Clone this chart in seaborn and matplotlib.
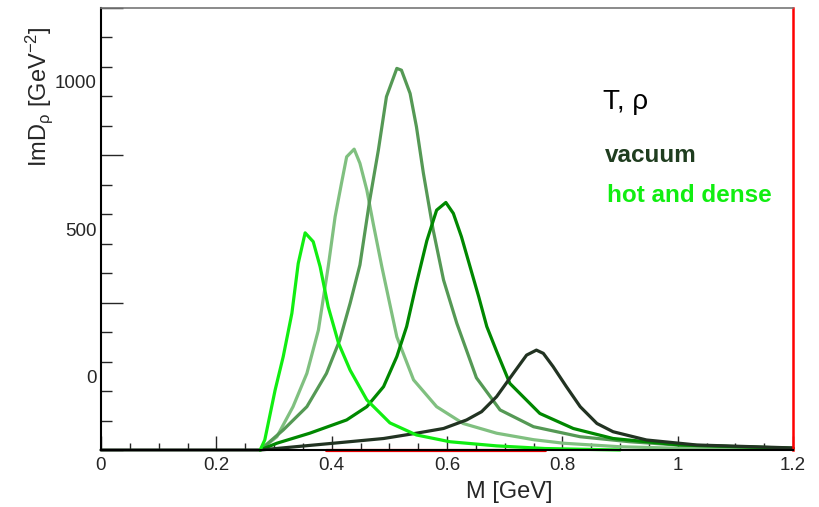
import numpy as np
import pandas as pd
import matplotlib
matplotlib.use('Agg')
import matplotlib.pyplot as plt
import seaborn as sns

# Spektralfunktion des rho-Mesons
m_hot = [0.276, 0.284, 0.302, 0.316, 0.331, 0.342, 0.354, 0.368, 0.380, 0.394,
         0.412, 0.432, 0.461, 0.501, 0.547, 0.605, 0.686, 0.770, 0.900]
v_hot = [0, 34, 204, 317, 464, 633, 737, 707, 622, 486,
         362, 271, 170, 92, 51, 28, 14, 5, 0]

m_light = [0.276, 0.305, 0.333, 0.357, 0.377, 0.394, 0.406, 0.417, 0.426, 0.439,
           0.449, 0.461, 0.472, 0.487, 0.513, 0.542, 0.582, 0.628, 0.686, 0.750,
           0.802, 0.900, 1.000, 1.200]
v_light = [0, 45, 147, 260, 407, 622, 792, 905, 995, 1021,
           973, 882, 769, 622, 384, 238, 147, 90, 57, 35,
           23, 11, 6, 2]

m_mid = [0.276, 0.316, 0.357, 0.391, 0.414, 0.432, 0.449, 0.466, 0.481, 0.495,
         0.513, 0.521, 0.536, 0.547, 0.559, 0.576, 0.594, 0.617, 0.651, 0.692,
         0.750, 0.831, 0.917, 1.000, 1.200]
v_mid = [0, 68, 147, 260, 373, 498, 628, 848, 1018, 1199,
         1295, 1289, 1210, 1097, 940, 747, 577, 430, 245, 136,
         79, 45, 28, 17, 5]

m_green = [0.276, 0.305, 0.362, 0.426, 0.461, 0.490, 0.513, 0.530, 0.547, 0.565,
           0.582, 0.598, 0.611, 0.625, 0.640, 0.655, 0.669, 0.686, 0.709, 0.761,
           0.819, 0.888, 1.004, 1.200]
v_green = [0, 23, 57, 102, 147, 215, 317, 419, 565, 710,
           814, 840, 803, 724, 622, 520, 419, 335, 226, 124,
           73, 39, 17, 6]

m_vac = [0.0, 0.276, 0.403, 0.490, 0.547, 0.594, 0.634, 0.660, 0.686, 0.715,
         0.738, 0.755, 0.767, 0.784, 0.807, 0.831, 0.860, 0.888, 0.946, 1.033,
         1.200]
v_vac = [0, 0, 23, 39, 57, 73, 102, 130, 181, 260,
         322, 339, 328, 283, 215, 147, 90, 62, 34, 17,
         7]

m_ref = [0.39, 0.77]
v_ref = [0, 0]

curve_names = ['ref', 'light', 'mid', 'green', 'vac', 'hot']
curve_colors = ['#ee0000', '#80c080', '#559955', '#008800', '#223322', '#11ee11']

x_ticks = [0, 0.2, 0.4, 0.6, 0.8, 1.0, 1.2]
x_ticklabels = ['0', '0.2', '0.4', '0.6', '0.8', '1', '1.2']
y_ticks = [0, 500, 1000, 1500]
y_ticklabels = ['0', '500', '1000']
LABEL_SHIFT = 250  # Beschriftung ist gegenueber den Hauptstrichen verschoben

frames = []
for name, m, v in [('ref', m_ref, v_ref), ('light', m_light, v_light),
                   ('mid', m_mid, v_mid), ('green', m_green, v_green),
                   ('vac', m_vac, v_vac), ('hot', m_hot, v_hot)]:
    frames.append(pd.DataFrame({'M': m, 'ImD': v, 'curve': name}))
df = pd.concat(frames, ignore_index=True)

sns.set_style('white')
plt.rcParams['font.family'] = ['Liberation Sans', 'DejaVu Sans']
plt.rcParams['mathtext.default'] = 'regular'

fig = plt.figure(figsize=(8.19, 5.07), dpi=100)
ax = fig.add_axes([101 / 819, 57 / 507, 692 / 819, 442 / 507])

for name, col in zip(curve_names, curve_colors):
    sub = df[df['curve'] == name]
    sns.lineplot(data=sub, x='M', y='ImD', color=col, linewidth=2.3,
                 sort=False, estimator=None, ax=ax, clip_on=False)

ax.set_xlim(0, 1.2)
ax.set_ylim(0, 1500)

ax.set_xticks(x_ticks)
ax.set_xticklabels(x_ticklabels)
ax.set_xticks(np.arange(0, 1.2001, 0.05), minor=True)
ax.set_yticks(y_ticks)
ax.set_yticklabels([])
ax.set_yticks(np.arange(0, 1501, 100), minor=True)

ax.tick_params(axis='x', which='major', direction='in', length=10, width=1,
               labelsize=13.5, pad=5, bottom=True, top=False)
ax.tick_params(axis='x', which='minor', direction='in', length=5, width=1,
               bottom=True, top=False)
ax.tick_params(axis='y', which='major', direction='in', length=15.8, width=1,
               left=True, right=False)
ax.tick_params(axis='y', which='minor', direction='in', length=7.9, width=1,
               left=True, right=False)

secax = ax.secondary_yaxis('left', functions=(lambda y: y - LABEL_SHIFT,
                                              lambda y: y + LABEL_SHIFT))
secax.set_yticks([0, 500, 1000])
secax.set_yticklabels(y_ticklabels)
secax.tick_params(length=0, labelsize=13.5, pad=3)
secax.spines['left'].set_visible(False)
secax.set_ylabel('')

for s in ['left', 'bottom']:
    ax.spines[s].set_color('black')
    ax.spines[s].set_linewidth(1.5)
ax.spines['top'].set_color('#777777')
ax.spines['top'].set_linewidth(1.2)
ax.spines['right'].set_color('red')
ax.spines['right'].set_linewidth(1.8)

ax.set_xlabel('M [GeV]', fontsize=17)
ax.xaxis.set_label_coords(0.59, -0.07)
ax.set_ylabel('ImD$_{ρ}$ [GeV$^{-2}$]', fontsize=17)
ax.yaxis.set_label_coords(-0.066, 0.80)

ax.text(0.725, 0.771, 'T, ρ', transform=ax.transAxes, fontsize=20,
        ha='left', va='baseline', color='black')
ax.text(0.728, 0.652, 'vacuum', transform=ax.transAxes, fontsize=17.5,
        fontweight='bold', ha='left', va='baseline', color='#1f3d1f')
ax.text(0.731, 0.561, 'hot and dense', transform=ax.transAxes, fontsize=17.5,
        fontweight='bold', ha='left', va='baseline', color='#11ee11')

fig.savefig('out.png', dpi=100)
